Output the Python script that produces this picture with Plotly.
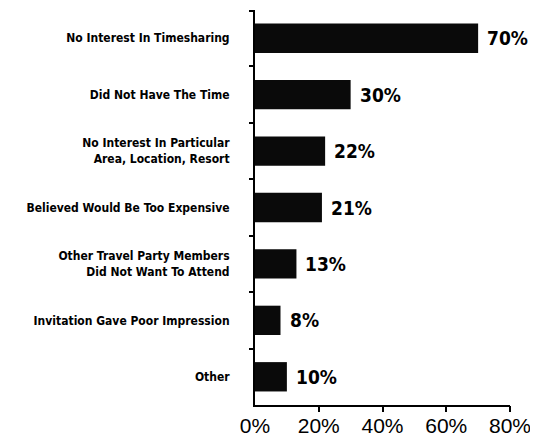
import plotly.graph_objects as go

categories = [
    "No Interest In Timesharing",
    "Did Not Have The Time",
    "No Interest In Particular<br>Area, Location, Resort",
    "Believed Would Be Too Expensive",
    "Other Travel Party Members<br>Did Not Want To Attend",
    "Invitation Gave Poor Impression",
    "Other",
]
values = [70, 30, 22, 21, 13, 8, 10]
x_ticks = [0, 20, 40, 60, 80]
x_tick_labels = ["0%", "20%", "40%", "60%", "80%"]

cat_ids = list(range(len(categories)))
COND = "DejaVu Sans Condensed"

fig = go.Figure()
fig.add_trace(go.Bar(
    x=values,
    y=cat_ids,
    orientation="h",
    marker=dict(color="#0a0a0a", line=dict(width=0)),
    width=0.52,
    hoverinfo="skip",
))

for c, v in zip(cat_ids, values):
    fig.add_annotation(
        x=v, y=c, xref="x", yref="y",
        text=f"<b>{v}%</b>", showarrow=False,
        xanchor="left", yanchor="middle", xshift=7,
        font=dict(family=COND, size=19, color="#000"),
    )

# page body has an 8px margin; compensate so the plot lands where the reference has it
fig.update_layout(
    width=530, height=432,
    margin=dict(l=247, r=28, t=2, b=35, autoexpand=False),
    paper_bgcolor="white", plot_bgcolor="white",
    showlegend=False,
)
fig.update_xaxes(
    range=[0, 80],
    tickvals=x_ticks, ticktext=x_tick_labels,
    showgrid=False, zeroline=False,
    showline=True, linecolor="#000", linewidth=1.5,
    ticks="",
    tickfont=dict(family="Liberation Sans", size=21, color="#000"),
    ticklabelstandoff=1,
    automargin=False,
    fixedrange=True,
)
fig.update_yaxes(
    range=[len(categories) - 0.5, -0.5],
    tickvals=cat_ids, ticktext=[f"<b>{c}</b>" for c in categories],
    showgrid=False, zeroline=False,
    showline=True, linecolor="#000", linewidth=2,
    ticks="",
    tickfont=dict(family=COND, size=12, color="#000"),
    ticklabelstandoff=21,
    automargin=False,
    fixedrange=True,
)
boundary_ticks = [0.01] + list(range(1, len(categories)))
fig.update_layout(
    xaxis2=dict(
        overlaying="x", anchor="y", side="bottom",
        range=[0, 80], tickvals=x_ticks[1:], ticktext=[""] * (len(x_ticks) - 1),
        ticks="outside", ticklen=6, tickcolor="#000", tickwidth=1.5,
        showgrid=False, zeroline=False, showline=False,
        automargin=False, fixedrange=True,
    ),
    yaxis2=dict(
        overlaying="y", anchor="x", side="left",
        range=[len(categories), 0],
        tickvals=boundary_ticks,
        ticktext=[""] * len(boundary_ticks),
        ticks="outside", ticklen=5, tickcolor="#000", tickwidth=1.5,
        showgrid=False, zeroline=False, showline=False,
        automargin=False, fixedrange=True,
    ),
)
fig.add_trace(go.Scatter(x=[None], y=[None], xaxis="x2", yaxis="y2",
                         showlegend=False, hoverinfo="skip"))

fig.write_html("out.html")
